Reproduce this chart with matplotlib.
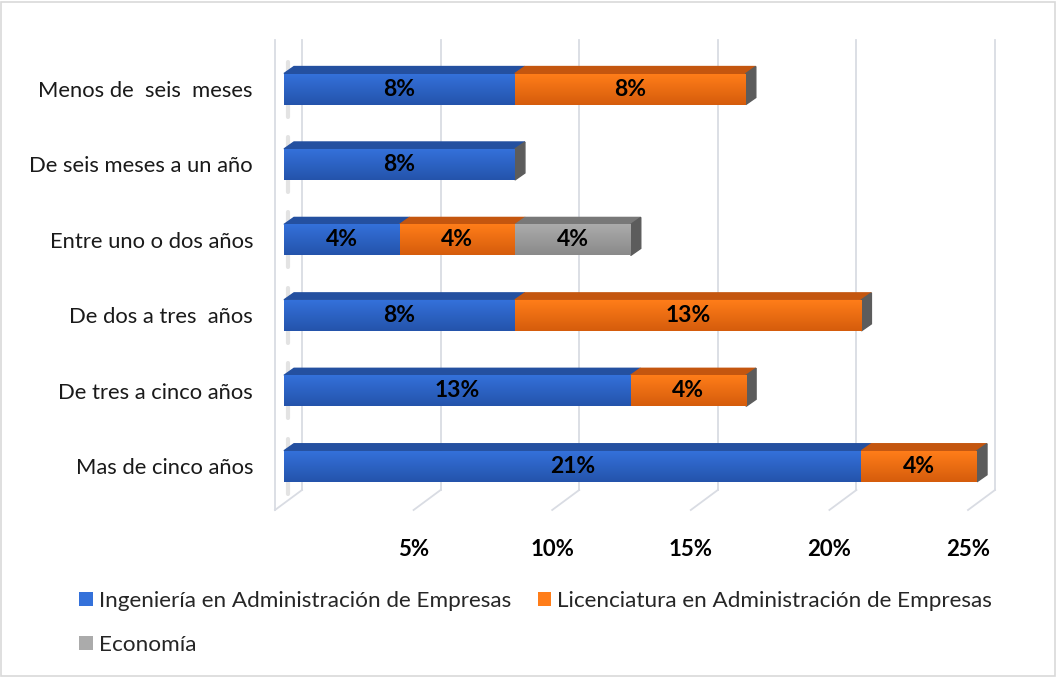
import matplotlib.pyplot as plt
import numpy as np
from matplotlib.patches import Polygon, Patch, Rectangle
from matplotlib.transforms import ScaledTranslation
from matplotlib.colors import to_rgb

plt.rcParams['font.family'] = ['Lato', 'DejaVu Sans']

categories = ['Mas de cinco años', 'De tres a cinco años', 'De dos a tres  años',
              'Entre uno o dos años', 'De seis meses a un año', 'Menos de  seis  meses']
series_names = ['Ingeniería en Administración de Empresas',
                'Licenciatura en Administración de Empresas',
                'Economía']
ingenieria = [20.83, 12.5, 8.33, 4.17, 8.33, 8.33]
licenciatura = [4.17, 4.17, 12.5, 4.17, 0, 8.33]
economia = [0, 0, 0, 4.17, 0, 0]
xticks = [5, 10, 15, 20, 25]
xtick_labels = ['5%', '10%', '15%', '20%', '25%']

# front colour (top, bottom of gradient), top face colour
styles = [('#3471da', '#2453ab', '#2450a0'),
          ('#ff7d19', '#d55c0c', '#c4560f'),
          ('#ababab', '#8a8a8a', '#787878')]
end_color = '#5c5c5c'

W, H = 1057, 677
fig = plt.figure(figsize=(W / 100, H / 100), dpi=100)
ax_l, ax_r, ax_b, ax_t = 284, 977, 510, 40
ax = fig.add_axes([ax_l / W, (H - ax_b) / H, (ax_r - ax_l) / W, (ax_b - ax_t) / H])
xmax = 25
ylo, yhi = -0.58, 5.65
ax.set_xlim(0, xmax)
ax.set_ylim(ylo, yhi)
for s in ax.spines.values():
    s.set_visible(False)

# pixel -> data helpers
px_x = xmax / (ax_r - ax_l)
px_y = (yhi - ylo) / (ax_b - ax_t)

grid_c = '#d9dce3'
# back wall gridlines and floor lines
floor_back = ylo + 20 * px_y
for v in [0] + xticks:
    xb = v + 18 * px_x
    xf = v - 9 * px_x
    ax.plot([xb, xb], [floor_back, yhi], color=grid_c, lw=1.3, clip_on=False, zorder=0)
    ax.plot([xb, xf], [floor_back, ylo], color=grid_c, lw=1.3, clip_on=False, zorder=0)
ax.plot([-9 * px_x, -9 * px_x], [ylo, yhi], color=grid_c, lw=1.3, clip_on=False, zorder=0)

ypos = np.arange(len(categories))
h = 31 * px_y
ddx, ddy = 10 * px_x, 7 * px_y

grad = np.linspace(0, 1, 64).reshape(-1, 1)
data = [ingenieria, licenciatura, economia]
left = np.zeros(len(categories))
for si, vals in enumerate(data):
    ctop, cbot, cface = styles[si]
    vals = np.array(vals)
    bars = ax.barh(ypos, vals, left=left, height=h, color=cbot, zorder=3, label=series_names[si])
    c1 = np.array(to_rgb(ctop))
    c2 = np.array(to_rgb(cbot))
    img = c1[None, None, :] * (1 - grad[:, :, None]) + c2[None, None, :] * grad[:, :, None]
    for b, v, l, y in zip(bars, vals, left, ypos):
        if v <= 0:
            continue
        b.set_clip_on(False)
        im = ax.imshow(img, extent=[l, l + v, y - h / 2, y + h / 2], aspect='auto',
                       zorder=3.5, origin='upper')
        im.set_clip_path(b)
        top = Polygon([(l, y + h / 2), (l + v, y + h / 2), (l + v + ddx, y + h / 2 + ddy),
                       (l + ddx, y + h / 2 + ddy)], closed=True, color=cface, zorder=3,
                      clip_on=False)
        ax.add_patch(top)
        ax.text(l + v / 2, y, '%d%%' % int(v + 0.5), ha='center', va='center',
                fontsize=16.5, fontweight='bold', color='black', zorder=5)
    left = left + vals
ax.set_aspect('auto')

# right end faces and left shadow
for y, tot in zip(ypos, left):
    side = Polygon([(tot, y - h / 2), (tot, y + h / 2), (tot + ddx, y + h / 2 + ddy),
                    (tot + ddx, y - h / 2 + ddy)], closed=True, color=end_color, zorder=3,
                   clip_on=False)
    ax.add_patch(side)
    ax.plot([4 * px_x, 4 * px_x], [y - h / 2 - 12 * px_y, y + h / 2 + 12 * px_y],
            color='#c8c8c8', lw=3, alpha=0.5, zorder=1, solid_capstyle='round')

ax.set_yticks(ypos)
ax.set_yticklabels(categories, fontsize=15.8, color='#1a1a1a')
ax.tick_params(axis='y', length=0, pad=31 * 0.72)
ax.set_xticks(xticks)
ax.set_xticklabels(xtick_labels, fontsize=16, fontweight='bold', color='black')
ax.tick_params(axis='x', length=0, pad=21)
for lbl in ax.get_xticklabels():
    lbl.set_transform(lbl.get_transform() + ScaledTranslation(-9 / 100, 0, fig.dpi_scale_trans))

handles = [Patch(facecolor=styles[0][0], edgecolor='none'),
           Patch(facecolor=styles[2][0], edgecolor='none'),
           Patch(facecolor=styles[1][0], edgecolor='none')]
labels = [series_names[0], series_names[2], series_names[1]]
fig.legend(handles, labels, loc='upper left', bbox_to_anchor=(68 / W, 1 - 580 / H),
           ncol=2, frameon=False, fontsize=16.2, handlelength=0.6, handleheight=0.6,
           handletextpad=0.27, columnspacing=1.18, labelspacing=1.04, borderpad=0,
           labelcolor='#262626')

fig.patches.append(Rectangle((1 / W, 1 / H), 1 - 3 / W, 1 - 3 / H, transform=fig.transFigure,
                             fill=False, edgecolor='#d9d9d9', lw=1.2))
fig.savefig('out.png', dpi=100)
